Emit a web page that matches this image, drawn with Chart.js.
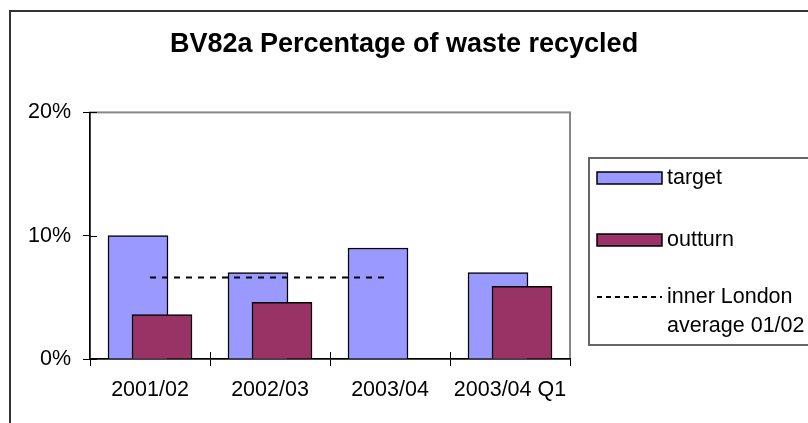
<!DOCTYPE html>
<html>
<head>
<meta charset="utf-8">
<script src="https://cdn.jsdelivr.net/npm/chart.js@4"></script>
<style>
  html, body { margin: 0; padding: 0; background: #fff; }
  #wrap { width: 808px; height: 423px; }
</style>
</head>
<body>
<div id="wrap"><canvas id="myChart" width="808" height="423"></canvas></div>
<script>
let categories = ['2001/02', '2002/03', '2003/04', '2003/04 Q1'];
let target = [10, 7, 9, 7];
let outturn = [3.6, 4.6, null, 5.9];
let londonAvg = [6.6, 6.6, 6.6, null];
let yTicks = [0, 10, 20];

const FONT = "'Liberation Sans', Arial, sans-serif";

// outer frame + grey plot border
let frame = {
  id: 'frame',
  beforeDraw(chart) {
    let c = chart.ctx, a = chart.chartArea;
    c.save();
    c.fillStyle = '#fff';
    c.fillRect(0, 0, chart.width, chart.height);
    c.strokeStyle = '#333';
    c.lineWidth = 2;
    c.strokeRect(10, 11, chart.width + 20, chart.height + 20);
    c.strokeStyle = '#888';
    c.lineWidth = 2;
    c.strokeRect(a.left, a.top, a.right - a.left, a.bottom - a.top);
    c.restore();
  },
  afterDraw(chart) {
    // inner half of the cross tick marks
    let c = chart.ctx, a = chart.chartArea;
    let x = chart.scales.x, y = chart.scales.y;
    c.save();
    c.strokeStyle = '#000';
    c.lineWidth = 1;
    yTicks.forEach(v => {
      let py = Math.round(y.getPixelForValue(v)) + 0.5;
      c.beginPath(); c.moveTo(a.left, py); c.lineTo(a.left + 7, py); c.stroke();
    });
    for (let i = 1; i < categories.length; i++) {
      let px = Math.round((x.getPixelForValue(i - 1) + x.getPixelForValue(i)) / 2) + 0.5;
      c.beginPath(); c.moveTo(px, a.bottom); c.lineTo(px, a.bottom - 7); c.stroke();
    }
    c.restore();
  }
};

// target bars under outturn bars, line on top
let drawOrder = {
  id: 'drawOrder',
  beforeDatasetDraw(chart, args) {
    if (args.index === 1) return false;
  },
  afterDatasetDraw(chart, args) {
    if (args.index === 0) chart.getDatasetMeta(1).controller.draw();
  }
};

// boxed legend like the Excel one
let boxLegend = {
  id: 'boxLegend',
  afterDraw(chart) {
    let c = chart.ctx;
    let ds = chart.data.datasets;
    let bx = 589, by = 158;
    c.save();
    c.strokeStyle = '#666';
    c.lineWidth = 2;
    c.strokeRect(bx, by, 260, 187);
    c.font = '21.5px ' + FONT;
    c.fillStyle = '#000';
    c.textBaseline = 'middle';
    let rows = [178, 240, 297];
    ds.forEach((d, i) => {
      let yy = rows[i];
      if (d.type === 'line') {
        c.strokeStyle = '#000';
        c.lineWidth = 2;
        c.setLineDash([5, 4]);
        c.beginPath(); c.moveTo(597, yy); c.lineTo(662, yy); c.stroke();
        c.setLineDash([]);
      } else {
        c.fillStyle = d.backgroundColor;
        c.fillRect(597, yy - 6, 65, 12);
        c.strokeStyle = '#000';
        c.lineWidth = 1.5;
        c.strokeRect(597, yy - 6, 65, 12);
      }
      c.fillStyle = '#000';
      let lines = Array.isArray(d.label) ? d.label : [d.label];
      lines.forEach((t, k) => c.fillText(t, 667, yy + k * 29));
    });
    c.restore();
  }
};

let ctx = document.getElementById('myChart').getContext('2d');
let myChart = new Chart(ctx, {
  type: 'bar',
  data: {
    labels: categories,
    datasets: [{
      label: 'target',
      data: target,
      backgroundColor: '#9999FF',
      borderColor: '#000',
      borderWidth: 1.5,
      order: 1
    }, {
      label: 'outturn',
      data: outturn,
      backgroundColor: '#993366',
      borderColor: '#000',
      borderWidth: 1.5,
      order: 2
    }, {
      type: 'line',
      label: ['inner London', 'average 01/02'],
      data: londonAvg,
      borderColor: '#000',
      borderWidth: 2,
      borderDash: [6, 6],
      pointRadius: 0,
      fill: false,
      order: 0
    }]
  },
  options: {
    responsive: false,
    animation: false,
    categoryPercentage: 0.4,
    barPercentage: 2.5,
    layout: { padding: 0 },
    plugins: {
      legend: { display: false },
      tooltip: { enabled: false },
      title: {
        display: true,
        text: 'BV82a Percentage of waste recycled',
        color: '#000',
        font: { family: FONT, size: 27, weight: 'bold', lineHeight: 1.2 },
        padding: { top: 28, bottom: 52 }
      }
    },
    scales: {
      x: {
        offset: true,
        grid: { offset: true, drawOnChartArea: false, tickLength: 7, color: '#000' },
        border: { color: '#000', width: 1.5 },
        ticks: { color: '#000', padding: 11, maxRotation: 0, font: { family: FONT, size: 21.5 } },
        afterFit(s) { s.height = 64; }
      },
      y: {
        min: 0,
        max: 20,
        afterBuildTicks(s) { s.ticks = yTicks.map(v => ({ value: v })); },
        grid: { drawOnChartArea: false, tickLength: 7, color: '#000' },
        border: { color: '#000', width: 1.5 },
        ticks: { color: '#000', padding: 12, font: { family: FONT, size: 21.5 }, callback: v => v + '%' },
        afterFit(s) { s.width = 90; }
      },
      y2: {
        position: 'right',
        display: true,
        min: 0,
        max: 20,
        grid: { display: false },
        border: { display: false },
        ticks: { display: false },
        afterFit(s) { s.width = 238; }
      }
    }
  },
  plugins: [frame, drawOrder, boxLegend]
});
</script>
</body>
</html>
